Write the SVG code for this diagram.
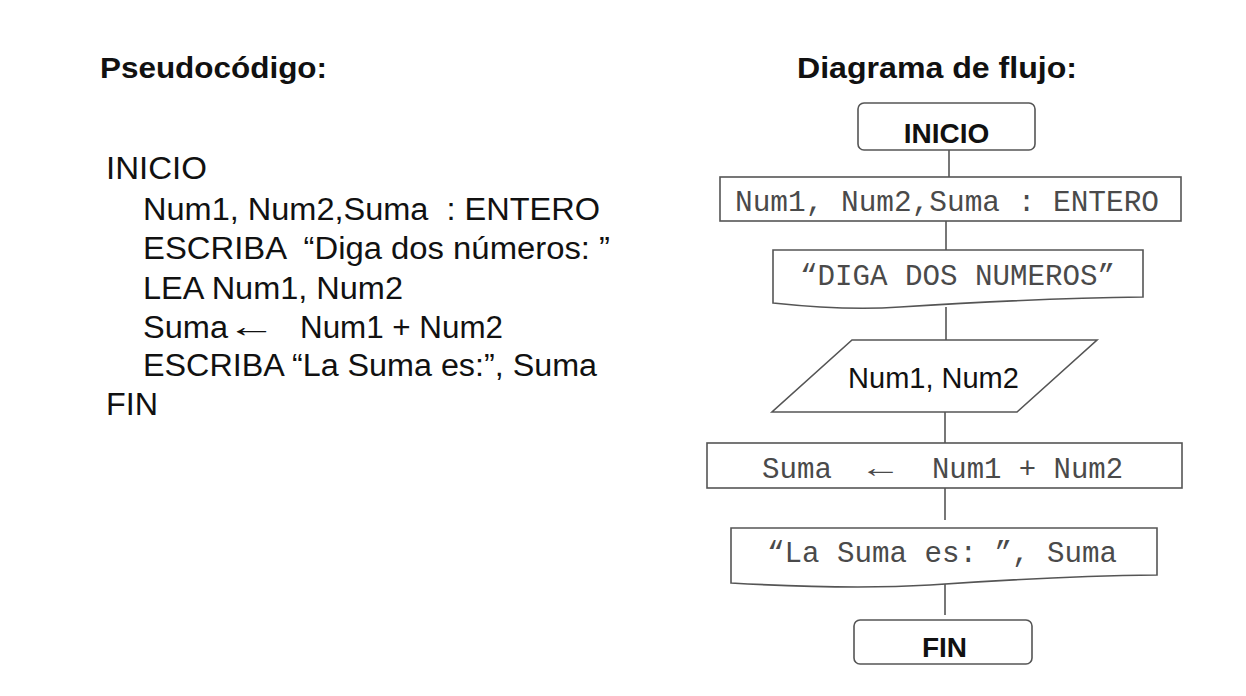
<svg xmlns="http://www.w3.org/2000/svg" width="1246" height="696" viewBox="0 0 1246 696">
<style>
.title{font-family:"Liberation Sans",Arial,sans-serif;font-weight:bold;font-size:30px;fill:#111}
.code{font-family:"Liberation Sans",Arial,sans-serif;font-size:31px;fill:#111;white-space:pre}
.shape{fill:#fff;stroke:#555;stroke-width:1.6}
.mono{font-family:"Liberation Mono","Courier New",monospace;font-size:29px;fill:#4a4a4a;white-space:pre}
.bold{font-family:"Liberation Sans",Arial,sans-serif;font-weight:bold;font-size:28px;fill:#111;text-anchor:middle}
.sans{font-family:"Liberation Sans",Arial,sans-serif;font-size:29px;fill:#111;text-anchor:middle}
.conn{stroke:#555;stroke-width:1.6;fill:none}
</style>
<rect width="1246" height="696" fill="#fff"/>
<text class="title" x="100" y="78" textLength="227" lengthAdjust="spacingAndGlyphs">Pseudocódigo:</text>
<text class="title" x="797" y="78" textLength="280" lengthAdjust="spacingAndGlyphs">Diagrama de flujo:</text>
<g id="pseudocode">
<text class="code" x="106" y="179" textLength="101" lengthAdjust="spacingAndGlyphs">INICIO</text>
<text class="code" x="143" y="220" textLength="457" lengthAdjust="spacingAndGlyphs">Num1, Num2,Suma  : ENTERO</text>
<text class="code" x="143" y="259" textLength="467" lengthAdjust="spacingAndGlyphs">ESCRIBA  “Diga dos números: ”</text>
<text class="code" x="143" y="299" textLength="260" lengthAdjust="spacingAndGlyphs">LEA Num1, Num2</text>
<text class="code" x="143" y="338" textLength="85" lengthAdjust="spacingAndGlyphs">Suma</text>
<text class="code" transform="translate(227,337) scale(1.6,1)">←</text>
<text class="code" x="300" y="338" textLength="203" lengthAdjust="spacingAndGlyphs">Num1 + Num2</text>
<text class="code" x="143" y="376" textLength="454" lengthAdjust="spacingAndGlyphs">ESCRIBA “La Suma es:”, Suma</text>
<text class="code" x="106" y="415" textLength="52" lengthAdjust="spacingAndGlyphs">FIN</text>
</g>
<g id="connectors">
<line class="conn" x1="949" y1="150" x2="949" y2="177"/>
<line class="conn" x1="946" y1="221" x2="946" y2="250"/>
<line class="conn" x1="946" y1="307" x2="946" y2="340"/>
<line class="conn" x1="945" y1="412" x2="945" y2="443"/>
<line class="conn" x1="945" y1="488" x2="945" y2="520"/>
<line class="conn" x1="945" y1="584" x2="945" y2="615"/>
</g>
<g id="inicio">
<rect class="shape" x="858" y="103" width="177" height="47" rx="6"/>
<text class="bold" x="946.5" y="143">INICIO</text>
</g>
<g id="declaracion">
<rect class="shape" x="720" y="177" width="461" height="44"/>
<text class="mono" x="735" y="211" textLength="424" lengthAdjust="spacingAndGlyphs">Num1, Num2,Suma : ENTERO</text>
</g>
<g id="escriba1">
<path class="shape" d="M773,250 H1143 V297 C1060,298 980,302 900,307 C860,310 820,308 773,303 Z"/>
<text class="mono" x="800" y="285" textLength="315" lengthAdjust="spacingAndGlyphs">“DIGA DOS NUMEROS”</text>
</g>
<g id="lea">
<polygon class="shape" points="852,340 1097,340 1017,412 772,412"/>
<text class="sans" x="933.5" y="388">Num1, Num2</text>
</g>
<g id="asignacion">
<rect class="shape" x="707" y="443" width="475" height="45"/>
<text class="mono" x="762" y="478" textLength="70" lengthAdjust="spacingAndGlyphs">Suma</text>
<text class="mono" x="868" y="477" textLength="25" lengthAdjust="spacingAndGlyphs">←</text>
<text class="mono" x="932" y="478" textLength="191" lengthAdjust="spacingAndGlyphs">Num1 + Num2</text>
</g>
<g id="escriba2">
<path class="shape" d="M731,528 H1157 V575 C1080,576 1000,580 930,585 C880,588 820,588 731,583 Z"/>
<text class="mono" x="767" y="562" textLength="350" lengthAdjust="spacingAndGlyphs">“La Suma es: ”, Suma</text>
</g>
<g id="fin">
<rect class="shape" x="854" y="620" width="178" height="44" rx="6"/>
<text class="bold" x="944.5" y="657">FIN</text>
</g>
</svg>
